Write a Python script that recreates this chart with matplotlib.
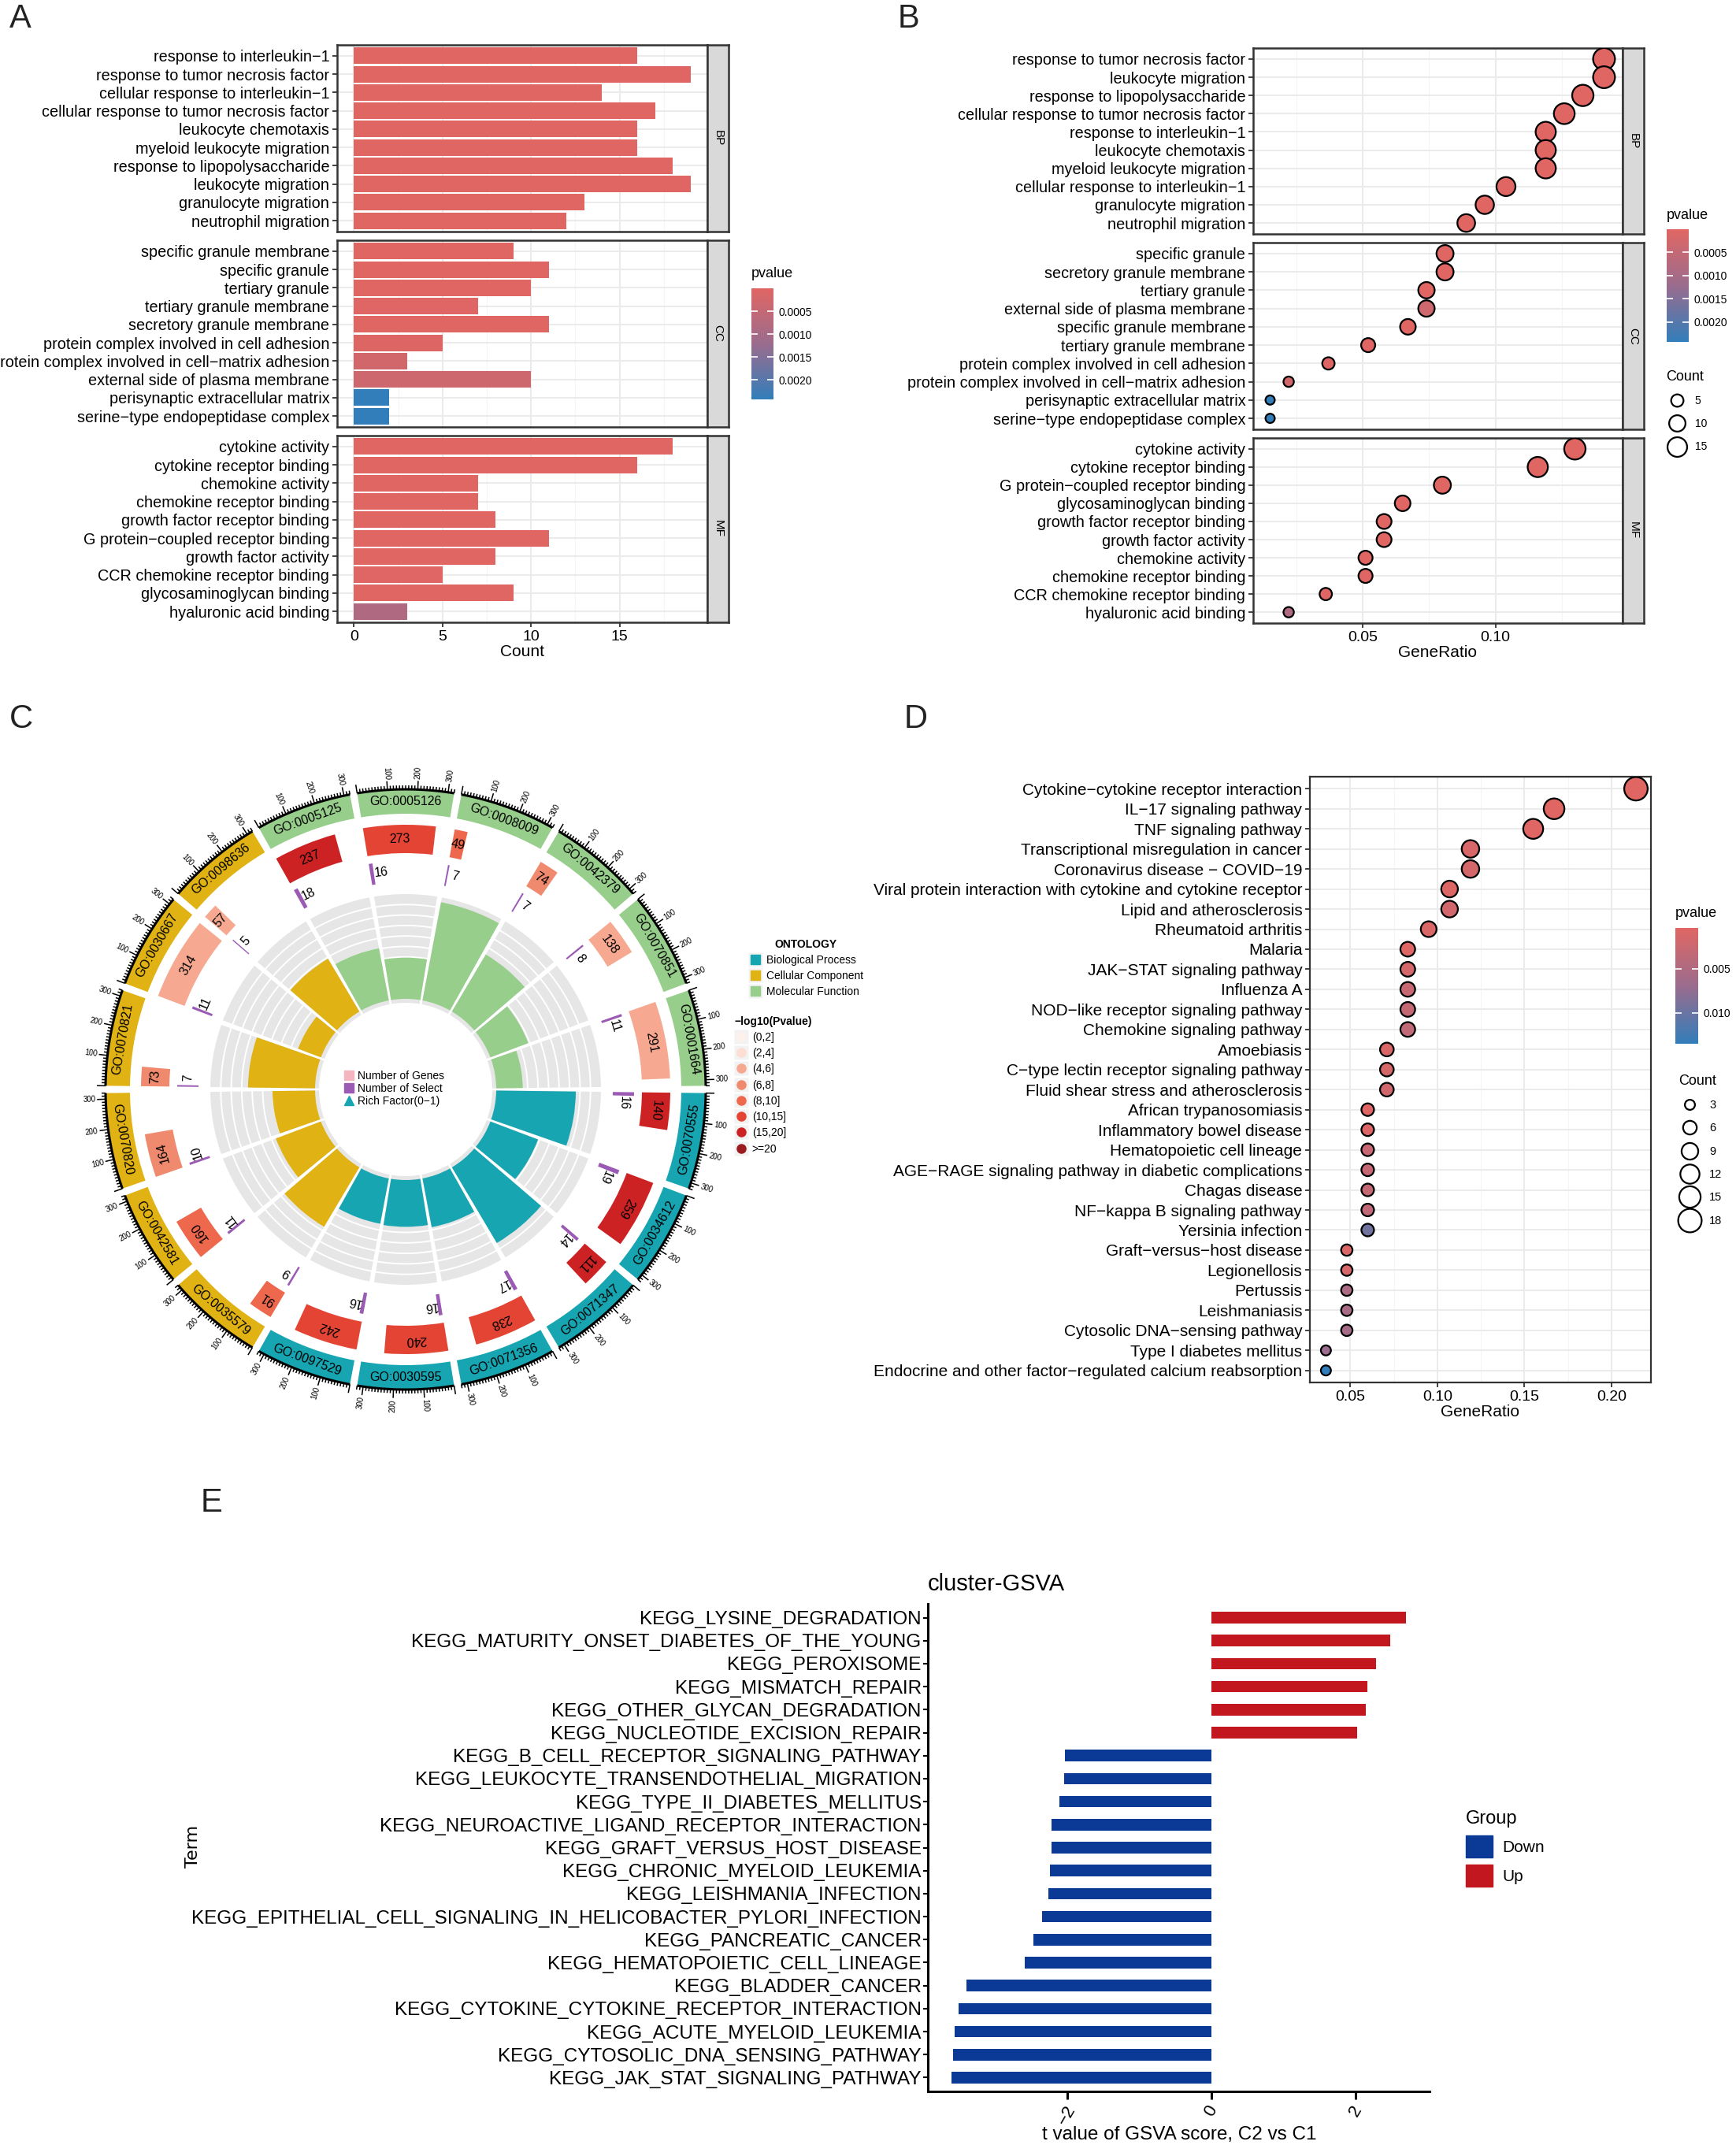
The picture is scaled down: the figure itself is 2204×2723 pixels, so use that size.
import numpy as np
import matplotlib
matplotlib.use("Agg")
import matplotlib.pyplot as plt
from matplotlib.colors import LinearSegmentedColormap, Normalize
from matplotlib.cm import ScalarMappable
from matplotlib.lines import Line2D
from matplotlib.patches import Patch

plt.rcParams['font.family'] = ['Liberation Sans', 'DejaVu Sans']

# ---------------- A: GO barplot, facets top to bottom ----------------
bp_terms = ['response to interleukin−1', 'response to tumor necrosis factor',
            'cellular response to interleukin−1', 'cellular response to tumor necrosis factor',
            'leukocyte chemotaxis', 'myeloid leukocyte migration', 'response to lipopolysaccharide',
            'leukocyte migration', 'granulocyte migration', 'neutrophil migration']
bp_count = [16, 19, 14, 17, 16, 16, 18, 19, 13, 12]
bp_p = [2e-8, 1e-9, 5e-7, 3e-8, 1e-8, 2e-8, 4e-8, 1e-9, 3e-7, 2e-7]

cc_terms = ['specific granule membrane', 'specific granule', 'tertiary granule',
            'tertiary granule membrane', 'secretory granule membrane',
            'protein complex involved in cell adhesion',
            'protein complex involved in cell−matrix adhesion', 'external side of plasma membrane',
            'perisynaptic extracellular matrix', 'serine−type endopeptidase complex']
cc_count = [9, 11, 10, 7, 11, 5, 3, 10, 2, 2]
cc_p = [2e-6, 1e-6, 3e-6, 2e-5, 4e-6, 6e-5, 2.4e-4, 3.4e-4, 2.43e-3, 2.43e-3]

mf_terms = ['cytokine activity', 'cytokine receptor binding', 'chemokine activity',
            'chemokine receptor binding', 'growth factor receptor binding',
            'G protein−coupled receptor binding', 'growth factor activity',
            'CCR chemokine receptor binding', 'glycosaminoglycan binding', 'hyaluronic acid binding']
mf_count = [18, 16, 7, 7, 8, 11, 8, 5, 9, 3]
mf_p = [1e-9, 1e-8, 5e-6, 6e-6, 4e-6, 3e-6, 5e-6, 2e-5, 8e-6, 8.5e-4]

# ---------------- B: GO dotplot (order and GeneRatio) ----------------
bp_dot = ['response to tumor necrosis factor', 'leukocyte migration', 'response to lipopolysaccharide',
          'cellular response to tumor necrosis factor', 'response to interleukin−1',
          'leukocyte chemotaxis', 'myeloid leukocyte migration', 'cellular response to interleukin−1',
          'granulocyte migration', 'neutrophil migration']
bp_ratio = [0.141, 0.141, 0.133, 0.126, 0.119, 0.119, 0.119, 0.104, 0.096, 0.089]
cc_dot = ['specific granule', 'secretory granule membrane', 'tertiary granule',
          'external side of plasma membrane', 'specific granule membrane', 'tertiary granule membrane',
          'protein complex involved in cell adhesion', 'protein complex involved in cell−matrix adhesion',
          'perisynaptic extracellular matrix', 'serine−type endopeptidase complex']
cc_ratio = [0.081, 0.081, 0.074, 0.074, 0.067, 0.052, 0.037, 0.022, 0.015, 0.015]
mf_dot = ['cytokine activity', 'cytokine receptor binding', 'G protein−coupled receptor binding',
          'glycosaminoglycan binding', 'growth factor receptor binding', 'growth factor activity',
          'chemokine activity', 'chemokine receptor binding', 'CCR chemokine receptor binding',
          'hyaluronic acid binding']
mf_ratio = [0.130, 0.116, 0.080, 0.065, 0.058, 0.058, 0.051, 0.051, 0.036, 0.022]

# ---------------- C: GO circle plot ----------------
go_ids = ['GO:0070555', 'GO:0034612', 'GO:0071347', 'GO:0071356', 'GO:0030595', 'GO:0097529',
          'GO:0035579', 'GO:0042581', 'GO:0070820', 'GO:0070821', 'GO:0030667', 'GO:0098636',
          'GO:0005125', 'GO:0005126', 'GO:0008009', 'GO:0042379', 'GO:0070851', 'GO:0001664']
go_ont = ['BP'] * 6 + ['CC'] * 6 + ['MF'] * 6
go_genes = [140, 259, 111, 238, 240, 242, 91, 160, 164, 73, 314, 57, 237, 273, 49, 74, 138, 291]
go_select = [16, 19, 14, 17, 16, 16, 9, 11, 10, 7, 11, 5, 18, 16, 7, 7, 8, 11]
go_logp = [17, 17, 16, 12, 12, 12, 9, 9, 7, 7, 5, 5, 16, 12, 9, 7, 5, 5]
go_rich = [0.114, 0.073, 0.126, 0.071, 0.067, 0.066, 0.099, 0.069, 0.061, 0.096,
           0.035, 0.088, 0.076, 0.059, 0.143, 0.095, 0.058, 0.038]
logp_bins = ['(0,2]', '(2,4]', '(4,6]', '(6,8]', '(8,10]', '(10,15]', '(15,20]', '>=20']
logp_cols = ['#FDF1EC', '#FCDED3', '#F6A890', '#F08A6E', '#ED684D', '#E44434', '#CC2224', '#9B1B1E']
ont_names = ['Biological Process', 'Cellular Component', 'Molecular Function']
ont_cols = {'BP': '#17A5B2', 'CC': '#E0B214', 'MF': '#97CE8B'}

# ---------------- D: KEGG dotplot ----------------
kegg_terms = ['Cytokine−cytokine receptor interaction', 'IL−17 signaling pathway', 'TNF signaling pathway',
              'Transcriptional misregulation in cancer', 'Coronavirus disease − COVID−19',
              'Viral protein interaction with cytokine and cytokine receptor', 'Lipid and atherosclerosis',
              'Rheumatoid arthritis', 'Malaria', 'JAK−STAT signaling pathway', 'Influenza A',
              'NOD−like receptor signaling pathway', 'Chemokine signaling pathway', 'Amoebiasis',
              'C−type lectin receptor signaling pathway', 'Fluid shear stress and atherosclerosis',
              'African trypanosomiasis', 'Inflammatory bowel disease', 'Hematopoietic cell lineage',
              'AGE−RAGE signaling pathway in diabetic complications', 'Chagas disease',
              'NF−kappa B signaling pathway', 'Yersinia infection', 'Graft−versus−host disease',
              'Legionellosis', 'Pertussis', 'Leishmaniasis', 'Cytosolic DNA−sensing pathway',
              'Type I diabetes mellitus', 'Endocrine and other factor−regulated calcium reabsorption']
kegg_count = [18, 14, 13, 10, 10, 9, 9, 8, 7, 7, 7, 7, 7, 6, 6, 6, 5, 5, 5, 5, 5, 5, 5, 4, 4, 4, 4, 4, 3, 3]
kegg_ratio = [0.214, 0.167, 0.155, 0.119, 0.119, 0.107, 0.107, 0.095, 0.083, 0.083, 0.083, 0.083, 0.083,
              0.071, 0.071, 0.071, 0.060, 0.060, 0.060, 0.060, 0.060, 0.060, 0.060,
              0.048, 0.048, 0.048, 0.048, 0.048, 0.036, 0.036]
kegg_p = [3.6e-4, 4e-4, 5e-4, 1.2e-3, 1.5e-3, 8e-4, 1.8e-3, 9e-4, 6e-4, 1.5e-3, 2.6e-3, 3.0e-3, 3.3e-3,
          1.0e-3, 1.3e-3, 1.9e-3, 5e-4, 8e-4, 2.6e-3, 2.8e-3, 3.0e-3, 3.4e-3, 9.5e-3,
          8e-4, 1.2e-3, 5.2e-3, 5.5e-3, 5.8e-3, 6.8e-3, 1.35e-2]

# ---------------- E: GSVA ----------------
gsva_terms = ['KEGG_LYSINE_DEGRADATION', 'KEGG_MATURITY_ONSET_DIABETES_OF_THE_YOUNG', 'KEGG_PEROXISOME',
              'KEGG_MISMATCH_REPAIR', 'KEGG_OTHER_GLYCAN_DEGRADATION', 'KEGG_NUCLEOTIDE_EXCISION_REPAIR',
              'KEGG_B_CELL_RECEPTOR_SIGNALING_PATHWAY', 'KEGG_LEUKOCYTE_TRANSENDOTHELIAL_MIGRATION',
              'KEGG_TYPE_II_DIABETES_MELLITUS', 'KEGG_NEUROACTIVE_LIGAND_RECEPTOR_INTERACTION',
              'KEGG_GRAFT_VERSUS_HOST_DISEASE', 'KEGG_CHRONIC_MYELOID_LEUKEMIA', 'KEGG_LEISHMANIA_INFECTION',
              'KEGG_EPITHELIAL_CELL_SIGNALING_IN_HELICOBACTER_PYLORI_INFECTION', 'KEGG_PANCREATIC_CANCER',
              'KEGG_HEMATOPOIETIC_CELL_LINEAGE', 'KEGG_BLADDER_CANCER',
              'KEGG_CYTOKINE_CYTOKINE_RECEPTOR_INTERACTION', 'KEGG_ACUTE_MYELOID_LEUKEMIA',
              'KEGG_CYTOSOLIC_DNA_SENSING_PATHWAY', 'KEGG_JAK_STAT_SIGNALING_PATHWAY']
gsva_t = [2.70, 2.48, 2.29, 2.17, 2.14, 2.02, -2.03, -2.04, -2.10, -2.21, -2.22, -2.24, -2.26, -2.35,
          -2.47, -2.59, -3.40, -3.50, -3.56, -3.58, -3.60]
group_cols = {'Down': '#0B3A96', 'Up': '#C3171F'}

# ------------------------------------------------------------------
W, H = 2204, 2723
fig = plt.figure(figsize=(W / 100, H / 100), dpi=100)


def box(x0, y0, x1, y1, **kw):
    return fig.add_axes([x0 / W, 1 - y1 / H, (x1 - x0) / W, (y1 - y0) / H], **kw)


def letter(x, y, s):
    fig.text(x / W, 1 - y / H, s, fontsize=30, va='top', ha='left', color='#222222')


enr_cmap = LinearSegmentedColormap.from_list('enr', ['#e06663', '#9a6c8e', '#327eba'])
LAB = 14.3   # term label size in A and B


def facet(x0, x1, y0, y1, tag, labels):
    ax = box(x0, y0, x1, y1)
    st = box(x1, y0, x1 + 27, y1)
    st.set_facecolor('#D9D9D9')
    st.set_xticks([]); st.set_yticks([])
    for a in (ax, st):
        for s in a.spines.values():
            s.set_linewidth(1.8); s.set_color('#333333')
    st.text(0.5, 0.5, tag, rotation=-90, ha='center', va='center', fontsize=11, transform=st.transAxes)
    n = len(labels)
    ax.set_ylim(-0.6, n - 0.4)
    ax.set_yticks(range(n))
    ax.set_yticklabels(labels[::-1])
    ax.grid(True, which='major', color='#EBEBEB', lw=1.5)
    ax.grid(True, which='minor', axis='x', color='#F5F5F5', lw=0.8)
    ax.set_axisbelow(True)
    ax.tick_params(which='major', length=4, width=1.3, color='#333333', labelsize=LAB, pad=3)
    ax.tick_params(axis='x', labelsize=14)
    ax.tick_params(which='minor', length=0)
    return ax


def colorbar(x0, y0, x1, y1, norm, ticks, labels):
    cax = box(x0, y0, x1, y1)
    cb = fig.colorbar(ScalarMappable(norm=norm, cmap=enr_cmap), cax=cax)
    cb.outline.set_visible(False)
    cax.invert_yaxis()
    cb.set_ticks(ticks)
    cb.set_ticklabels(labels)
    cax.yaxis.set_ticks_position('both')
    cax.tick_params(direction='in', length=6, width=1.2, color='white', labelsize=10, pad=5,
                    labelleft=False, labelright=True)
    return cax


facets_a = [(57, 294, 'BP', bp_terms, bp_count, bp_p),
            (305, 542, 'CC', cc_terms, cc_count, cc_p),
            (553, 790, 'MF', mf_terms, mf_count, mf_p)]
all_p = bp_p + cc_p + mf_p
go_norm = Normalize(vmin=min(all_p), vmax=max(all_p))
count_of = dict(zip(bp_terms + cc_terms + mf_terms, bp_count + cc_count + mf_count))
p_of = dict(zip(bp_terms + cc_terms + mf_terms, all_p))

# ---------------- panel A ----------------
letter(12, 4, 'A')
for j, (y0, y1, tag, terms, cnt, pv) in enumerate(facets_a):
    ax = facet(428, 898, y0, y1, tag, terms)
    ypos = np.arange(len(terms))[::-1]
    ax.barh(ypos, cnt, height=0.9, color=enr_cmap(go_norm(np.array(pv))))
    ax.set_xlim(-0.95, 19.95)
    ax.set_xticks([0, 5, 10, 15])
    ax.set_xticks([2.5, 7.5, 12.5, 17.5], minor=True)
    if j < 2:
        ax.tick_params(axis='x', which='both', length=0, labelbottom=False)
    else:
        ax.set_xlabel('Count', fontsize=15, labelpad=1)
fig.text(954 / W, 1 - 348 / H, 'pvalue', fontsize=13, va='center')
colorbar(954, 366, 982, 507, go_norm, [0.0005, 0.001, 0.0015, 0.002],
         ['0.0005', '0.0010', '0.0015', '0.0020'])

# ---------------- panel B ----------------
letter(1140, 4, 'B')
b_rows = [(61, 297, 'BP', bp_dot, bp_ratio), (308, 545, 'CC', cc_dot, cc_ratio),
          (556, 791, 'MF', mf_dot, mf_ratio)]
b_counts = list(count_of.values())
cmin, cmax = min(b_counts), max(b_counts)


def size_b(c):
    d = np.sqrt(14 ** 2 + (np.asarray(c) - cmin) / (cmax - cmin) * (30 ** 2 - 14 ** 2))
    return d * 0.72 - 1.6


for j, (y0, y1, tag, terms, ratio) in enumerate(b_rows):
    ax = facet(1591, 2060, y0, y1, tag, terms)
    ypos = np.arange(len(terms))[::-1]
    cnt = [count_of[t] for t in terms]
    pv = [p_of[t] for t in terms]
    ax.scatter(ratio, ypos, s=size_b(cnt) ** 2, c=pv, cmap=enr_cmap, norm=go_norm,
               edgecolors='black', linewidths=1.6, zorder=3)
    ax.set_xlim(0.0086, 0.148)
    ax.set_xticks([0.05, 0.10])
    ax.set_xticklabels(['0.05', '0.10'])
    ax.set_xticks([0.025, 0.075, 0.125], minor=True)
    if j < 2:
        ax.tick_params(axis='x', which='both', length=0, labelbottom=False)
    else:
        ax.set_xlabel('GeneRatio', fontsize=15, labelpad=1)
fig.text(2116 / W, 1 - 274 / H, 'pvalue', fontsize=13, va='center')
colorbar(2116, 291, 2144, 434, go_norm, [0.0005, 0.001, 0.0015, 0.002],
         ['0.0005', '0.0010', '0.0015', '0.0020'])
hb = [Line2D([], [], ls='', marker='o', mfc='white', mec='black', mew=1.6, ms=size_b(c)) for c in (5, 10, 15)]
fig.legend(hb, ['5', '10', '15'], title='Count', loc='upper left', bbox_to_anchor=(2110 / W, 1 - 464 / H),
           frameon=False, fontsize=10, title_fontsize=13, labelspacing=1.1, handletextpad=0.6,
           borderaxespad=0, alignment='left')

# ---------------- panel C ----------------
letter(12, 893, 'C')
cx, cy, R = 515, 1383, 430
axc = fig.add_axes([(cx - R) / W, 1 - (cy + R) / H, 2 * R / W, 2 * R / H], projection='polar')
axc.set_theta_zero_location('E')
axc.set_theta_direction(-1)
axc.set_ylim(0, R)
axc.set_axis_off()
gap = 1.4
span = 20 - gap
dpu = span / 320.0
rad = np.radians
bin_idx = np.digitize(go_logp, [2, 4, 6, 8, 10, 15, 20], right=True)


def rot_tan(cw):
    r = (-cw - 90 + 180) % 360 - 180
    if r < -90:
        r += 180
    elif r > 90:
        r -= 180
    return r


def rot_rad(cw):
    m = (-cw + 180) % 360 - 180
    if m > 90:
        return m - 180, 'right'
    if m < -90:
        return m + 180, 'right'
    return m, 'left'


for k in range(len(go_ids)):
    t0 = 20 * k + gap / 2
    col = ont_cols[go_ont[k]]
    th = rad(np.linspace(t0, t0 + span, 80))
    # outer band with GO id
    axc.bar(rad(t0), 30, width=rad(span), bottom=350, align='edge', color=col, lw=0)
    axc.text(rad(t0 + span / 2), 365, go_ids[k], rotation=rot_tan(t0 + span / 2), rotation_mode='anchor',
             ha='center', va='center', fontsize=11.5)
    # scale ring
    axc.plot(th, np.full_like(th, 381), color='black', lw=2.2, solid_capstyle='butt')
    units = np.arange(0, 321, 10)
    axc.vlines(rad(t0 + units * dpu), 381, np.where(units % 100 == 0, 392, 386), color='black', lw=1.1)
    for u in (100, 200, 300):
        rr, ha = rot_rad(t0 + u * dpu)
        axc.text(rad(t0 + u * dpu), 394, str(u), rotation=rr, rotation_mode='anchor', ha=ha, va='center',
                 fontsize=7)
    # number of genes
    g = go_genes[k]
    axc.bar(rad(t0), 36, width=rad(g * dpu), bottom=300, align='edge', color=logp_cols[bin_idx[k]], lw=0)
    axc.text(rad(t0 + g * dpu / 2), 318, str(g), rotation=-(t0 + g * dpu / 2) - 90, rotation_mode='anchor',
             ha='center', va='center', fontsize=11.5)
    # number of selected genes
    s = go_select[k]
    axc.bar(rad(t0), 27, width=rad(s * dpu), bottom=263, align='edge', color='#9B5AB4', lw=0)
    axc.text(rad(t0 + s * dpu + 1.9), 277, str(s), rotation=-(t0 + s * dpu + 1.9) - 90,
             rotation_mode='anchor', ha='center', va='center', fontsize=11.5)
    # rich factor
    axc.bar(rad(t0), 138, width=rad(span), bottom=110, align='edge', color='#E6E6E6', lw=0)
    for rr in 115 + 13.3 * np.arange(1, 10):
        axc.plot(th, np.full_like(th, rr), color='white', lw=1.4)
    axc.bar(rad(t0), go_rich[k] / 0.15 * 133, width=rad(span), bottom=115, align='edge', color=col, lw=0,
            zorder=3)

center_h = [Line2D([], [], ls='', marker='s', ms=8, color='#F4B4C0'),
            Line2D([], [], ls='', marker='s', ms=8, color='#9B5AB4'),
            Line2D([], [], ls='', marker='^', ms=9, color='#17A5B2')]
fig.legend(center_h, ['Number of Genes', 'Number of Select', 'Rich Factor(0−1)'], loc='center',
           bbox_to_anchor=(500 / W, 1 - 1382 / H), frameon=False, fontsize=10, labelspacing=0.15,
           handletextpad=0.3, handlelength=1.0, borderaxespad=0)

key_bg = dict(ls='', marker='s', ms=13, mfc='#F2F2F2', mec='none')
ont_h = [(Line2D([], [], **key_bg), Line2D([], [], ls='', marker='s', ms=8, color=ont_cols[o]))
         for o in ('BP', 'CC', 'MF')]
fig.legend(ont_h, ont_names, title='ONTOLOGY', loc='upper left', bbox_to_anchor=(945 / W, 1 - 1186 / H),
           frameon=False, fontsize=10, title_fontproperties={'weight': 'bold', 'size': 10},
           labelspacing=0.45, handletextpad=0.4, handlelength=1.2, borderaxespad=0)
bin_h = [(Line2D([], [], **key_bg), Line2D([], [], ls='', marker='o', ms=8, color=c)) for c in logp_cols]
fig.legend(bin_h, logp_bins, title='−log10(Pvalue)', loc='upper left', bbox_to_anchor=(927 / W, 1 - 1284 / H),
           frameon=False, fontsize=10, title_fontproperties={'weight': 'bold', 'size': 10},
           labelspacing=0.45, handletextpad=0.4, handlelength=1.2, borderaxespad=0, alignment='left')

# ---------------- panel D ----------------
letter(1148, 893, 'D')
axd = box(1663, 986, 2096, 1755)
n = len(kegg_terms)
ypos = np.arange(n)[::-1]
kmin, kmax = min(kegg_count), max(kegg_count)


def size_d(c):
    d = np.sqrt(15 ** 2 + (np.asarray(c) - kmin) / (kmax - kmin) * (32 ** 2 - 15 ** 2))
    return d * 0.72 - 1.6


kegg_norm = Normalize(vmin=min(kegg_p), vmax=max(kegg_p))
axd.scatter(kegg_ratio, ypos, s=size_d(kegg_count) ** 2, c=kegg_p, cmap=enr_cmap, norm=kegg_norm,
            edgecolors='black', linewidths=1.6, zorder=3)
axd.set_ylim(-0.6, n - 0.4)
axd.set_yticks(range(n))
axd.set_yticklabels(kegg_terms[::-1])
axd.set_xlim(0.0268, 0.2226)
axd.set_xticks([0.05, 0.10, 0.15, 0.20])
axd.set_xticklabels(['0.05', '0.10', '0.15', '0.20'])
axd.set_xticks([0.075, 0.125, 0.175], minor=True)
axd.grid(True, which='major', color='#EBEBEB', lw=1.5)
axd.grid(True, which='minor', axis='x', color='#F5F5F5', lw=0.8)
axd.set_axisbelow(True)
axd.tick_params(which='major', length=4, width=1.3, color='#333333', labelsize=15, pad=3)
axd.tick_params(axis='x', labelsize=14)
axd.tick_params(which='minor', length=0)
for s in axd.spines.values():
    s.set_linewidth(1.6); s.set_color('#333333')
axd.set_xlabel('GeneRatio', fontsize=15, labelpad=1)
fig.text(2127 / W, 1 - 1160 / H, 'pvalue', fontsize=13, va='center')
colorbar(2127, 1178, 2156, 1325, kegg_norm, [0.005, 0.010], ['0.005', '0.010'])
hd = [Line2D([], [], ls='', marker='o', mfc='white', mec='black', mew=1.6, ms=size_d(c))
      for c in (3, 6, 9, 12, 15, 18)]
fig.legend(hd, ['3', '6', '9', '12', '15', '18'], title='Count', loc='upper left',
           bbox_to_anchor=(2125 / W, 1 - 1358 / H), frameon=False, fontsize=10.5, title_fontsize=13,
           labelspacing=1.05, handletextpad=0.7, borderaxespad=0, alignment='left')

# ---------------- panel E ----------------
letter(255, 1888, 'E')
axe = box(1178, 2036, 1815, 2655)
n = len(gsva_terms)
ypos = np.arange(n)[::-1]
groups = ['Up' if v > 0 else 'Down' for v in gsva_t]
axe.barh(ypos, gsva_t, height=0.5, color=[group_cols[g] for g in groups])
axe.set_ylim(-0.6, n - 0.4)
axe.set_xlim(-3.93, 3.03)
axe.set_yticks(range(n))
axe.set_yticklabels(gsva_terms[::-1])
axe.set_xticks([-2, 0, 2])
axe.set_xticklabels(['−2', '0', '2'], rotation=60, ha='center', va='top')
for side in ('top', 'right'):
    axe.spines[side].set_visible(False)
for side in ('left', 'bottom'):
    axe.spines[side].set_linewidth(2.2)
axe.tick_params(axis='y', length=4, width=1.5, labelsize=17.5, pad=2)
axe.tick_params(axis='x', length=7, width=2.2, labelsize=16, pad=3)
axe.set_title('cluster-GSVA', fontsize=21, loc='left', pad=12)
fig.text(1497 / W, 1 - 2710 / H, 't value of GSVA score, C2 vs C1', ha='center', va='center', fontsize=17.5)
fig.text(245 / W, 1 - 2344 / H, 'Term', rotation=90, ha='center', va='center', fontsize=16,
         family=['DejaVu Sans'])
fig.legend([Patch(color=group_cols['Down']), Patch(color=group_cols['Up'])], ['Down', 'Up'], title='Group',
           loc='upper left', bbox_to_anchor=(1853 / W, 1 - 2290 / H), frameon=False, fontsize=15,
           title_fontsize=17, handlelength=1.6, handleheight=1.7, labelspacing=0.45, handletextpad=0.6,
           borderaxespad=0, alignment='left')

fig.savefig('out.png', dpi=100)
